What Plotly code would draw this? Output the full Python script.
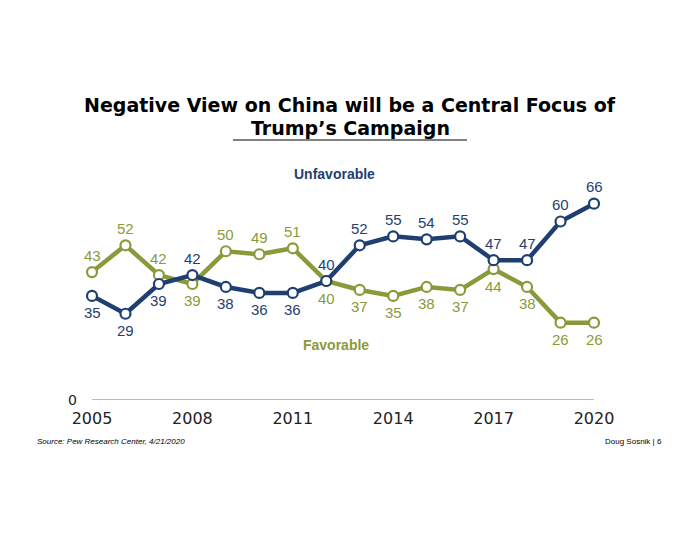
import plotly.graph_objects as go

years = list(range(2005, 2021))
unfavorable = [35, 29, 39, 42, 38, 36, 36, 40, 52, 55, 54, 55, 47, 47, 60, 66]
favorable = [43, 52, 42, 39, 50, 49, 51, 40, 37, 35, 38, 37, 44, 38, 26, 26]
tick_years = [2005, 2008, 2011, 2014, 2017, 2020]

# label side per point: +1 above, -1 below (style, not data)
unfav_side = [-1, -1, -1, 1, -1, -1, -1, 1, 1, 1, 1, 1, 1, 1, 1, 1]
fav_side = [1, 1, 1, -1, 1, 1, 1, -1, -1, -1, -1, -1, -1, -1, -1, -1]

NAVY = "#1F3F71"
OLIVE = "#8A9A3B"

# page has an 8px body margin; work in page pixels, convert to figure
OFF = 8
W, H = 700, 541
L, R, T, B = 80, 620, 160, 400  # plot area in page pixels
def px(x):
    return (x - L) / (R - L)
def py(y):
    return (B - y) / (B - T)

fig = go.Figure()
for vals, side, col in [(favorable, fav_side, OLIVE), (unfavorable, unfav_side, NAVY)]:
    fig.add_trace(go.Scatter(
        x=years, y=vals, mode="lines+markers",
        line=dict(color=col, width=4.5),
        marker=dict(size=10, color="white", line=dict(color=col, width=2.2)),
        cliponaxis=False, showlegend=False, hoverinfo="skip",
    ))
    for xv, yv, s in zip(years, vals, side):
        fig.add_annotation(x=xv, y=yv, xref="x", yref="y", text=str(yv), showarrow=False,
                           xanchor="center", yanchor="middle", yshift=17 * s,
                           font=dict(family="Liberation Sans, Arial", size=15, color=col))

fig.add_shape(type="line", x0=2005, x1=2020, y0=0, y1=0, xref="x", yref="y",
              line=dict(color="#A6A6A6", width=1.5))

# title
title_font = dict(family="DejaVu Sans", size=19, color="black")
fig.add_annotation(text="<b>Negative View on China will be a Central Focus of</b>",
                   x=px(350), y=py(105), xref="paper", yref="paper", showarrow=False,
                   xanchor="center", yanchor="middle", font=title_font)
fig.add_annotation(text="<b>Trump’s Campaign</b>",
                   x=px(350), y=py(128), xref="paper", yref="paper", showarrow=False,
                   xanchor="center", yanchor="middle", font=title_font)
fig.add_shape(type="line", x0=px(233), x1=px(467), y0=py(140), y1=py(140),
              xref="paper", yref="paper", line=dict(color="black", width=1.2))

fig.add_annotation(text="<b>Unfavorable</b>", x=px(334), y=py(174), xref="paper", yref="paper",
                   showarrow=False, xanchor="center", yanchor="middle",
                   font=dict(family="Liberation Sans Narrow, Liberation Sans", size=14, color=NAVY))
fig.add_annotation(text="<b>Favorable</b>", x=px(336), y=py(345), xref="paper", yref="paper",
                   showarrow=False, xanchor="center", yanchor="middle",
                   font=dict(family="Liberation Sans Narrow, Liberation Sans", size=14, color=OLIVE))

fig.add_annotation(text="<i>Source: Pew Research Center, 4/21/2020</i>", x=px(35), y=py(441),
                   xref="paper", yref="paper", xanchor="left", yanchor="middle", showarrow=False,
                   font=dict(family="Liberation Sans Narrow, Liberation Sans", size=8, color="black"))
fig.add_annotation(text="Doug Sosnik | 6", x=px(664), y=py(441),
                   xref="paper", yref="paper", xanchor="right", yanchor="middle", showarrow=False,
                   font=dict(family="Liberation Sans Narrow, Liberation Sans", size=8, color="black"))

x_per_year = (594 - 92) / 15
fig.update_layout(
    width=W, height=H,
    margin=dict(l=L - OFF, r=W - (R - OFF), t=T - OFF, b=H - (B - OFF), pad=0),
    paper_bgcolor="white", plot_bgcolor="white",
    xaxis=dict(range=[2005 - (92 - L) / x_per_year, 2020 + (R - 594) / x_per_year],
               tickvals=tick_years, ticks="", showgrid=False, zeroline=False, showline=False,
               tickfont=dict(family="DejaVu Sans", size=16, color="#222222"),
               ticklabelstandoff=7),
    yaxis=dict(range=[0, (B - T) / 2.975], tickvals=[0], ticks="", showgrid=False,
               zeroline=False, showline=False,
               tickfont=dict(family="DejaVu Sans", size=14, color="#222222"),
               ticklabelstandoff=2),
)
fig.write_html("out.html")
